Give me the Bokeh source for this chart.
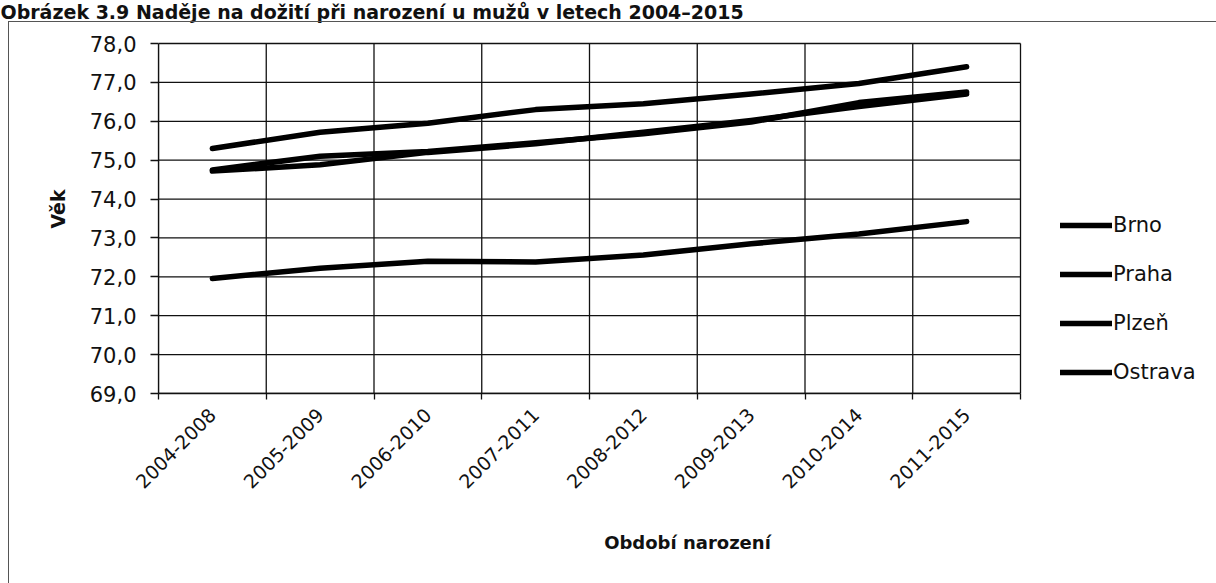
from bokeh.plotting import figure
from bokeh.models import (FixedTicker, Legend, LegendItem, ColumnDataSource,
                          Range1d, InlineStyleSheet)
from bokeh.embed import file_html
from bokeh.resources import INLINE

periods = ["2004-2008", "2005-2009", "2006-2010", "2007-2011",
           "2008-2012", "2009-2013", "2010-2014", "2011-2015"]
brno = [74.75, 75.10, 75.22, 75.45, 75.68, 75.98, 76.48, 76.75]
praha = [75.30, 75.72, 75.95, 76.30, 76.45, 76.70, 76.97, 77.40]
plzen = [74.72, 74.88, 75.20, 75.42, 75.72, 76.02, 76.38, 76.70]
ostrava = [71.96, 72.22, 72.40, 72.38, 72.56, 72.85, 73.10, 73.42]
y_ticks = [69, 70, 71, 72, 73, 74, 75, 76, 77, 78]

series = [("Brno", brno), ("Praha", praha), ("Plzeň", plzen), ("Ostrava", ostrava)]

FONT = "DejaVu Sans"
INK = "#111"
n = len(periods)
xs = [i + 0.5 for i in range(n)]
bounds_x = list(range(n + 1))
y0, y1 = min(y_ticks), max(y_ticks)

# layout (pixels): plot area 158..1020 x 43..393; frame extended right/up
W, H = 1216, 583
PL, PR, PT, PB = 158, 1020, 43, 393
FT = 24  # frame top (below title panel)
x_end = n * (W - PL) / (PR - PL)
y_end = y1 + (y1 - y0) * (PT - FT) / (PB - PT)

p = figure(width=W, height=H, output_backend="svg", toolbar_location=None,
           x_range=Range1d(0, x_end), y_range=Range1d(y0, y_end),
           min_border_left=PL, min_border_right=0, min_border_top=FT,
           min_border_bottom=H - PB)
p.background_fill_color = "white"
p.border_fill_color = "white"
p.outline_line_color = None
p.xgrid.grid_line_color = None
p.ygrid.grid_line_color = None

# title
p.title.text = "Obrázek 3.9 Naděje na dožití při narození u mužů v letech 2004–2015"
p.title.align = "left"
p.title.offset = -PL
p.title.vertical_align = "top"
p.title.standoff = 0
p.title.text_font = FONT
p.title.text_font_style = "bold"
p.title.text_font_size = "19px"
p.title.text_color = INK

# outer box of the chart object
p.stylesheets = [InlineStyleSheet(css=(
    ":host::after { content: ''; position: absolute; left: 8px; top: 21px; "
    "right: 0px; bottom: 0px; border-left: 1px solid #555; border-top: 1px solid #555; "
    "pointer-events: none; }"))]

# grid lines limited to the plot area
p.segment(x0=bounds_x, x1=bounds_x, y0=[y0] * len(bounds_x), y1=[y1] * len(bounds_x),
          line_color=INK, line_width=1.3)
p.segment(x0=[0] * len(y_ticks), x1=[n] * len(y_ticks), y0=y_ticks, y1=y_ticks,
          line_color=INK, line_width=1.3)

# x axis: labels at centres, tick marks at boundaries
xa = p.xaxis[0]
xa.bounds = (0, n)
xa.ticker = FixedTicker(ticks=xs, minor_ticks=bounds_x)
xa.major_label_overrides = {x: lab for x, lab in zip(xs, periods)}
xa.major_tick_out = 0
xa.major_tick_in = 0
xa.minor_tick_out = 6
xa.minor_tick_in = 0
xa.minor_tick_line_color = INK
xa.minor_tick_line_width = 1.3
xa.axis_line_color = INK
xa.axis_line_width = 1.3
xa.major_label_orientation = 0.785398
xa.major_label_text_font = FONT
xa.major_label_text_font_size = "19px"
xa.major_label_text_color = INK
xa.major_label_standoff = 12
xa.axis_label = "Období narození"
xa.axis_label_text_font = FONT
xa.axis_label_text_font_style = "bold"
xa.axis_label_text_font_size = "18px"
xa.axis_label_text_color = INK
xa.axis_label_standoff = 34

ya = p.yaxis[0]
ya.bounds = (y0, y1)
ya.ticker = FixedTicker(ticks=y_ticks)
ya.major_label_overrides = {v: f"{v:.1f}".replace(".", ",") for v in y_ticks}
ya.major_tick_out = 8
ya.major_tick_in = 0
ya.minor_tick_out = 0
ya.minor_tick_in = 0
ya.major_tick_line_color = INK
ya.major_tick_line_width = 1.3
ya.axis_line_color = INK
ya.axis_line_width = 1.3
ya.major_label_text_font = FONT
ya.major_label_text_font_size = "21px"
ya.major_label_text_color = INK
ya.major_label_standoff = 14
ya.axis_label = "Věk"
ya.axis_label_text_font = FONT
ya.axis_label_text_font_style = "bold"
ya.axis_label_text_font_size = "19px"
ya.axis_label_text_color = INK
ya.axis_label_standoff = 18

items = []
for name, vals in series:
    src = ColumnDataSource(dict(x=xs, y=vals))
    r = p.line("x", "y", source=src, line_color="#000", line_width=5.5,
               line_cap="round", line_join="round")
    items.append(LegendItem(label=name, renderers=[r]))

legend = Legend(items=items, location=(1060 - PL, PB - 384), orientation="vertical",
                glyph_width=52, glyph_height=22, label_height=22,
                label_standoff=1, spacing=25, padding=0, margin=0,
                border_line_color=None, background_fill_alpha=0,
                label_text_font=FONT, label_text_font_size="21px",
                label_text_color=INK)
p.add_layout(legend, "center")

open("out.html", "w").write(file_html(p, INLINE))
